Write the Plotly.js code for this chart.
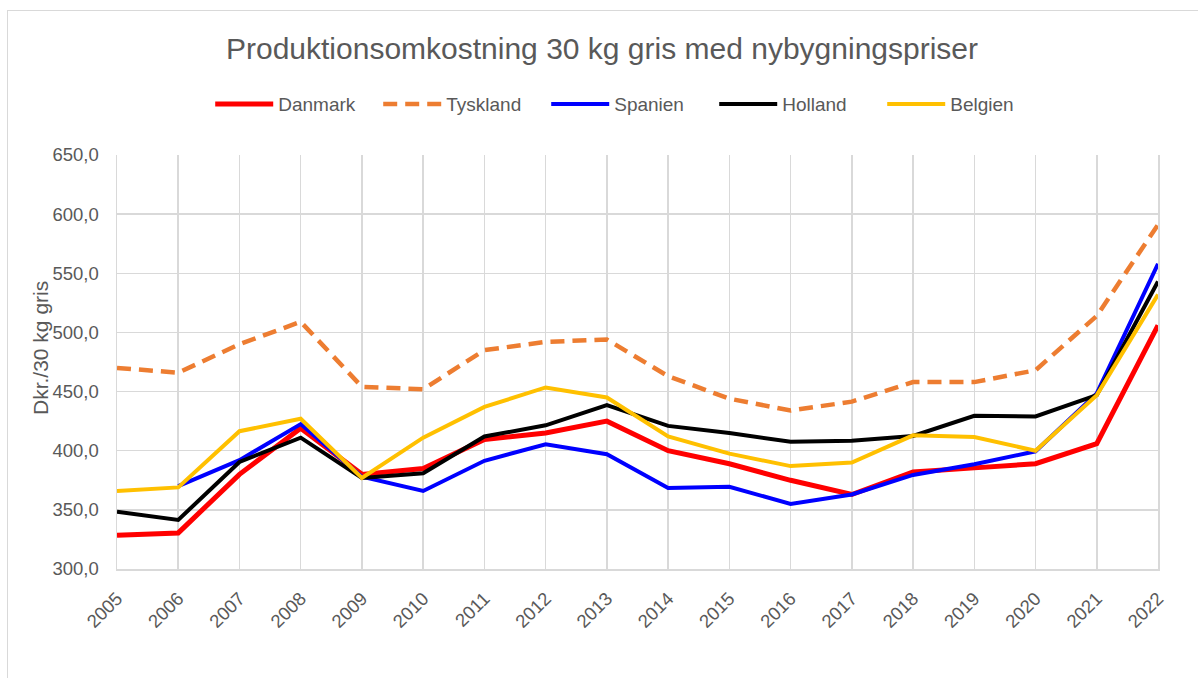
<!DOCTYPE html>
<html>
<head>
<meta charset="utf-8">
<script src="https://cdn.plot.ly/plotly-3.0.1.min.js"></script>
<style>
  html, body { margin: 0; padding: 0; background: #ffffff; }
  #chart { width: 1198px; height: 678px; }
  #frame { position: absolute; left: 7px; top: 10px; width: 1200px; height: 700px;
           border-left: 1px solid #d9d9d9; border-top: 1px solid #d9d9d9; pointer-events: none; }
</style>
</head>
<body>
<div id="chart"></div>
<div id="frame"></div>
<script>
const years = [2005, 2006, 2007, 2008, 2009, 2010, 2011, 2012, 2013, 2014, 2015, 2016, 2017, 2018, 2019, 2020, 2021, 2022];
const danmark  = [328.5, 330.5, 380, 419, 380, 385, 409.5, 415, 425, 400, 389, 375, 363, 382, 385.5, 389, 406, 506];
const tyskland = [470, 466, 490, 509, 454, 452, 485, 492, 494, 463, 444, 434, 441.5, 458, 458, 468, 514, 591];
const spanien  = [null, 370, 392, 422.5, 378, 366, 391.5, 405.5, 397, 368.5, 369.5, 355, 363, 379.5, 388.5, 399.5, 448.5, 558];
const holland  = [348.5, 341.5, 390.5, 411, 377, 381, 412, 421.5, 438.5, 421, 415, 407.5, 408.5, 412.5, 429.5, 429, 447, 543];
const belgien  = [366, 369, 416.5, 427, 377, 411, 437, 453.5, 445, 412, 397.5, 387, 390, 413, 411.5, 400, 447, 532];

const seriesNames = ['Danmark', 'Tyskland', 'Spanien', 'Holland', 'Belgien'];
const seriesValues = [danmark, tyskland, spanien, holland, belgien];
const seriesColors = ['#FF0000', '#ED7D31', '#0000FF', '#000000', '#FFC000'];
const seriesDash = ['solid', '14px,8px', 'solid', 'solid', 'solid'];
const seriesWidth = [5, 4.5, 4, 4, 4];

const traces = seriesNames.map((n, i) => ({
  type: 'scatter',
  mode: 'lines',
  name: n,
  x: years,
  y: seriesValues[i],
  line: { color: seriesColors[i], width: seriesWidth[i], dash: seriesDash[i] },
  connectgaps: false,
  hoverinfo: 'x+y+name'
}));

const layout = {
  width: 1198,
  height: 678,
  paper_bgcolor: '#ffffff',
  plot_bgcolor: '#ffffff',
  margin: { l: 117, r: 40, t: 155, b: 109 },
  separators: ', ',
  font: { family: 'Liberation Sans, Arial, sans-serif', color: '#595959', size: 18 },
  title: {
    text: 'Produktionsomkostning 30 kg gris med nybygningspriser',
    font: { family: 'Liberation Sans, Arial, sans-serif', size: 30, color: '#595959' },
    x: 602 / 1198, xanchor: 'center', xref: 'container',
    y: 1 - 48 / 678, yanchor: 'middle', yref: 'container'
  },
  showlegend: true,
  legend: {
    orientation: 'h',
    x: 0.493, xanchor: 'center',
    y: 1.123, yanchor: 'middle',
    font: { size: 19, color: '#595959' },
    bgcolor: 'rgba(0,0,0,0)',
    itemwidth: 58,
    entrywidth: 95,
    traceorder: 'normal'
  },
  xaxis: {
    type: 'linear',
    range: [2005, 2022],
    tickmode: 'array',
    tickvals: years,
    ticktext: years.map(String),
    tickangle: -45,
    ticklabelstandoff: 10,
    showgrid: true,
    gridcolor: '#d9d9d9',
    gridwidth: 1.5,
    zeroline: false,
    showline: true,
    linecolor: '#d9d9d9',
    linewidth: 1.5,
    ticks: '',
    tickfont: { size: 18.5, color: '#595959' },
    fixedrange: true
  },
  yaxis: {
    range: [300, 650],
    dtick: 50,
    tick0: 300,
    tickformat: '.1f',
    showgrid: true,
    gridcolor: '#d9d9d9',
    gridwidth: 1.5,
    zeroline: false,
    showline: true,
    linecolor: '#d9d9d9',
    linewidth: 1.5,
    mirror: true,
    ticks: '',
    ticklabelstandoff: 13,
    tickfont: { size: 18.5, color: '#595959' },
    fixedrange: true
  },
  annotations: [{
    text: 'Dkr./30 kg gris',
    xref: 'paper', yref: 'paper',
    x: (40 - 117) / 1041, y: (569 - 348) / 414,
    xanchor: 'center', yanchor: 'middle',
    textangle: -90,
    showarrow: false,
    font: { size: 21, color: '#595959' }
  }]
};

Plotly.newPlot('chart', traces, layout, { displayModeBar: false, staticPlot: true });
</script>
</body>
</html>
